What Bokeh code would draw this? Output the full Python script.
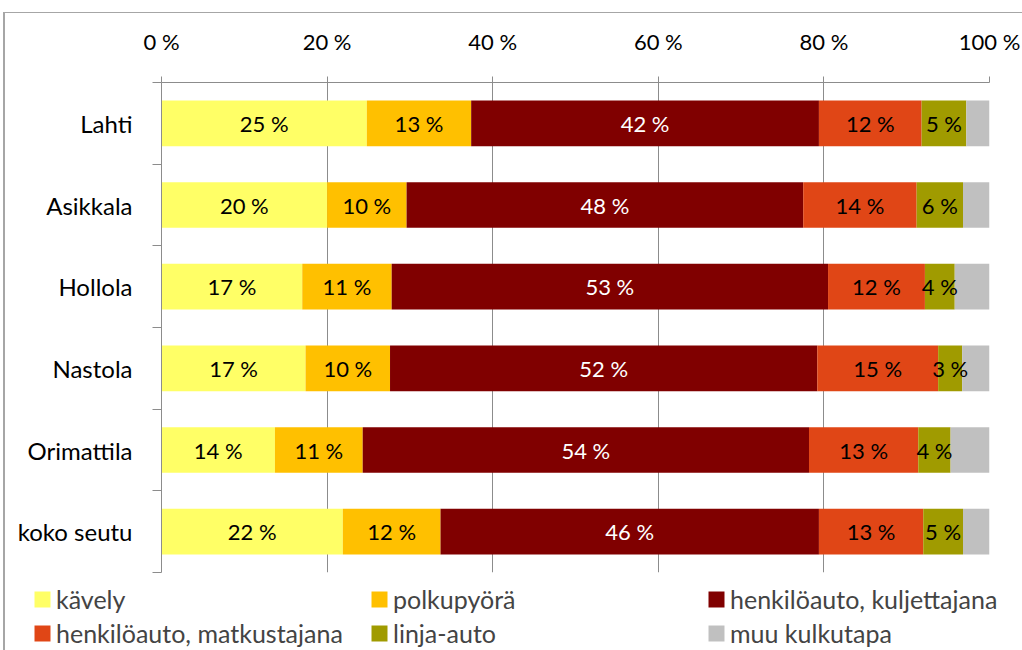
from bokeh.plotting import figure
from bokeh.layouts import column
from bokeh.models import ColumnDataSource, FixedTicker, Legend, LegendItem
from bokeh.core.properties import value
from bokeh.embed import file_html
from bokeh.resources import INLINE

# ---- data ----
categories = ["Lahti", "Asikkala", "Hollola", "Nastola", "Orimattila", "koko seutu"]
series = ["kävely", "polkupyörä", "henkilöauto, kuljettajana",
          "henkilöauto, matkustajana", "linja-auto", "muu kulkutapa"]
kavely = [24.8, 20.0, 17.0, 17.4, 13.7, 21.9]
polkupyora = [12.6, 9.6, 10.8, 10.2, 10.6, 11.8]
kuljettajana = [42.0, 47.9, 52.7, 51.6, 53.9, 45.7]
matkustajana = [12.4, 13.7, 11.7, 14.6, 13.2, 12.6]
linja_auto = [5.4, 5.6, 3.6, 2.9, 3.9, 4.8]
muu = [2.8, 3.2, 4.2, 3.3, 4.7, 3.2]
x_ticks = [0, 20, 40, 60, 80, 100]

colors = ["#FFFF66", "#FFC000", "#800000", "#E04616", "#A09B00", "#C0C0C0"]
text_colors = ["black", "black", "white", "black", "black", None]
values_list = [kavely, polkupyora, kuljettajana, matkustajana, linja_auto, muu]

n = len(categories)
ypos = [n - i - 0.5 for i in range(n)]  # first category on top

keys = ["s%d" % k for k in range(len(series))]
data = {"y": ypos}
for k, vals in zip(keys, values_list):
    data[k] = vals
source = ColumnDataSource(data)

FONT = "Lato"
GRAY = "#8c8c8c"
W = 1017

p = figure(width=W, height=567, output_backend="svg", toolbar_location=None,
           x_range=(0, 100), y_range=(0, n), x_axis_location="above",
           min_border_left=156, min_border_right=33, min_border_top=69,
           min_border_bottom=8, outline_line_color=None)
p.frame_align = False

p.hbar_stack(keys, y="y", height=0.56, color=colors, line_color=None, source=source)

# segment labels
lx, ly, lt, lc = [], [], [], []
for i in range(n):
    cum = 0.0
    for s, vals in enumerate(values_list):
        v = vals[i]
        if text_colors[s] is not None:
            lx.append(cum + v / 2)
            ly.append(ypos[i])
            lt.append("%.0f %%" % v)
            lc.append(text_colors[s])
        cum += v
lsrc = ColumnDataSource(dict(x=lx, y=ly, text=lt, color=lc))
p.text(x="x", y="y", text="text", text_color="color", text_align="center",
       text_baseline="middle", text_font=value(FONT), text_font_size="22px",
       source=lsrc)

# x axis (top)
xt = FixedTicker(ticks=x_ticks, minor_ticks=[])
xa = p.xaxis[0]
xa.ticker = xt
xa.major_label_overrides = {t: "%d %%" % t for t in x_ticks}
xa.major_tick_out = 6
xa.major_tick_in = 0
xa.minor_tick_out = 0
xa.minor_tick_in = 0
xa.axis_line_color = GRAY
xa.major_tick_line_color = GRAY
xa.major_label_text_font = FONT
xa.major_label_text_font_size = "22px"
xa.major_label_text_color = "black"
xa.major_label_standoff = 22

p.xgrid.ticker = xt
p.xgrid.grid_line_color = GRAY
p.ygrid.grid_line_color = None

# y axis (left)
ya = p.yaxis[0]
ya.ticker = FixedTicker(ticks=ypos, minor_ticks=list(range(n + 1)))
ya.major_label_overrides = {y: c for y, c in zip(ypos, categories)}
ya.major_tick_out = 0
ya.major_tick_in = 0
ya.minor_tick_out = 9
ya.minor_tick_in = 0
ya.minor_tick_line_color = GRAY
ya.axis_line_color = GRAY
ya.major_label_text_font = FONT
ya.major_label_text_font_size = "24px"
ya.major_label_text_color = "black"
ya.major_label_standoff = 20

# legend panel (separate strip so the legend can span the full width)
leg = figure(width=W, height=70, output_backend="svg", toolbar_location=None,
             x_axis_location=None, y_axis_location=None,
             x_range=(0, 100), y_range=(0, n),
             min_border_left=0, min_border_right=0, min_border_top=0,
             min_border_bottom=0, outline_line_color=None)
leg.frame_align = False
leg.grid.visible = False
leg_renderers = leg.hbar_stack(keys, y="y", height=0.56, color=colors,
                               line_color=None, source=source)
for r in leg_renderers:
    r.visible = False

items = [LegendItem(label=s, renderers=[r]) for s, r in zip(series, leg_renderers)]
legend = Legend(items=items, orientation="horizontal", ncols=3,
                location=(27, 0), padding=0, spacing=0, margin=0,
                glyph_width=20, glyph_height=20, label_standoff=4,
                label_width=313, label_height=34,
                label_text_font=FONT, label_text_font_size="25px",
                border_line_color=None, background_fill_alpha=0)
leg.add_layout(legend, "center")

layout = column(p, leg, spacing=0)
layout.styles = {"margin-left": "3px", "margin-top": "12px",
                 "border-left": "2px solid #a6a6a6", "border-top": "1px solid #a6a6a6"}

open("out.html", "w").write(file_html(layout, INLINE))
